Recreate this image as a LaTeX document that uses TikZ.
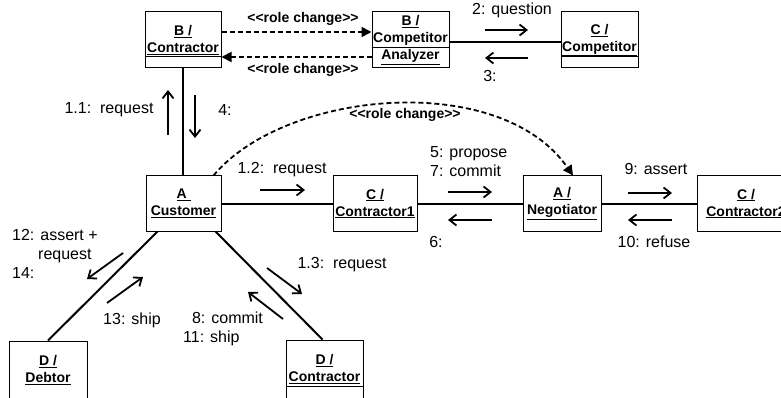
\documentclass[tikz,border=0pt]{standalone}
\usepackage{fontspec}
\setmainfont{Liberation Sans}
\usetikzlibrary{arrows.meta}

\newcommand{\boxfont}{\fontsize{14}{17}\selectfont\bfseries}
\newcommand{\lblfont}{\fontsize{16}{19}\selectfont}
\newcommand{\uln}[1]{\underline{#1}}
\newcommand{\rolechange}{<\kern0pt<role change>\kern0pt>}

\begin{document}
\begin{tikzpicture}[x=1pt,y=-1pt,
  obj/.style={draw,line width=1pt,align=center,font=\boxfont,inner sep=0pt,
    execute at begin node={\rule{0pt}{16pt}}},
  link/.style={line width=2pt},
  msg/.style={line width=1.8pt,-{Straight Barb[length=7pt,width=11pt]}},
  rolechg/.style={line width=1.8pt,dash pattern=on 5pt off 3pt,-{Triangle[length=10pt,width=10pt]}},
  lbl/.style={font=\lblfont,align=left,inner sep=0pt},
  rclbl/.style={font=\boxfont,inner sep=0pt}]
\useasboundingbox (0,0) rectangle (781,398);

% objects
\node[obj,minimum width=76pt,minimum height=56pt] (bcon) at (183,40) {\uln{B /}\\\uln{Contractor}};
\node[obj,minimum width=77pt,minimum height=56pt] (bana) at (410.5,40) {\uln{B /}\\\uln{Competitor}\\\uln{Analyzer}};
\node[obj,minimum width=77pt,minimum height=56pt] (ccomp) at (599.5,40) {\uln{C /}\\\uln{Competitor}};
\node[obj,minimum width=75pt,minimum height=55pt] (acus) at (183.5,203.5) {\uln{A\ }\\\uln{Customer}};
\node[obj,minimum width=84pt,minimum height=55pt] (ccon1) at (375,203.5) {\uln{C /}\\\uln{Contractor1}};
\node[obj,minimum width=78pt,minimum height=55pt] (aneg) at (562,203.5) {\uln{A /}\\\uln{Negotiator}};
\node[obj,minimum width=98pt,minimum height=55pt] (ccon2) at (746,203.5) {\uln{C /}\\\uln{Contractor2}};
\node[obj,minimum width=78pt,minimum height=58pt] (ddeb) at (48,370) {\uln{D /}\\\uln{Debtor}};
\node[obj,minimum width=77pt,minimum height=58pt] (dcon) at (324.5,369) {\uln{D /}\\\uln{Contractor}};

% compartments
\draw[line width=1pt] (bcon.west |- 0,57) -- (bcon.east |- 0,57);
\draw[line width=1pt] (bana.west |- 0,48) -- (bana.east |- 0,48);
\draw[line width=1pt] (ccomp.west |- 0,57) -- (ccomp.east |- 0,57);
\draw[line width=1pt] (dcon.west |- 0,386) -- (dcon.east |- 0,386);

% links
\draw[link] (bcon.south) -- (bcon.south |- acus.north);
\draw[link] ([yshift=-2pt]bana.east) -- ([yshift=-2pt]ccomp.west);
\draw[link] (acus.east) -- (ccon1.west);
\draw[link] (ccon1.east) -- (aneg.west);
\draw[link] (aneg.east) -- (ccon2.west);
\draw[link] ([xshift=12pt]acus.south west) -- (ddeb.north);
\draw[link] ([xshift=-6pt]acus.south east) -- ([xshift=-2pt]dcon.north);

% role changes
\draw[rolechg] ([yshift=8pt]bcon.east) -- ([yshift=8pt]bana.west);
\draw[rolechg] ([yshift=-17pt]bana.west) -- ([yshift=-17pt]bcon.east);
\draw[rolechg] ([xshift=-8pt]acus.north east) .. controls (285,90) and (500,70) .. ([xshift=11pt]aneg.north);
\node[rclbl] (rc1) at (303,19) {\rolechange};
\node[rclbl] (rc2) at (303,70) {\rolechange};
\node[rclbl] (rc3) at (405,115) {\rolechange};

% messages
\foreach \nm/\p/\q in {m11/{168,135}/{168,90}, m4/{195,95}/{195,138},
    m12/{260,190}/{305,190}, m2/{485,30}/{528,30}, m3/{528,58}/{485,58},
    m5/{448,192}/{492,192}, m6/{492,220}/{448,220},
    m9/{628,193}/{672,193}, m10/{672,220}/{628,220},
    m14/{123,253}/{87,279}, m13/{107,303}/{143,277},
    m13r/{267,268}/{302,294}, m8/{283,319}/{248,292}} {
  \coordinate (\nm-a) at (\p);
  \coordinate (\nm-b) at (\q);
  \draw[msg] (\nm-a) -- (\nm-b);
}

% labels
\node[lbl] (l11) at (109,110) {1.1:\ \ request};
\node[lbl] (l4) at (225,110) {4:};
\node[lbl] (l12) at (282,170) {1.2:\ \ request};
\node[lbl] (l2) at (512,10) {2: question};
\node[lbl] (l3) at (490,76) {3:};
\node[lbl,anchor=west] (l57) at (430,162) {5: propose\\7: commit};
\node[lbl] (l6) at (436,242) {6:};
\node[lbl] (l9) at (656,169) {9: assert};
\node[lbl] (l10) at (654,242) {10: refuse};
\node[lbl,anchor=west] (l1214) at (12,254) {12: assert +\\\hspace*{26pt}request\\14:};
\node[lbl] (l13) at (132,320) {13: ship};
\node[lbl] (l13r) at (342,265) {1.3:\ \ request};
\node[lbl,anchor=west] (l811) at (183,329) {\phantom{1}8: commit\\11: ship};
\end{tikzpicture}
\end{document}
